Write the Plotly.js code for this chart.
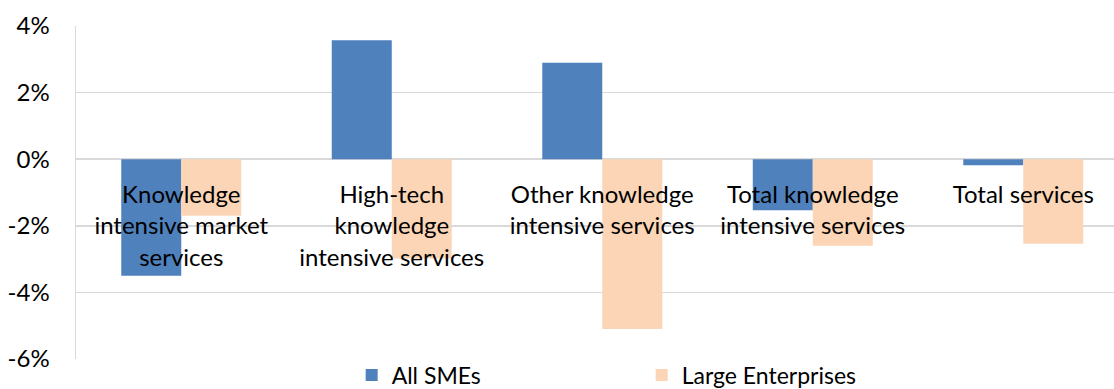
<!DOCTYPE html>
<html>
<head>
<meta charset="utf-8">
<script src="https://cdn.plot.ly/plotly-3.0.1.min.js"></script>
<style>
  body { margin: 0; background: #fff; }
  #chart { width: 1114px; height: 389px; }
</style>
</head>
<body>
<div id="chart"></div>
<script>
var categories = [
  "Knowledge<br>intensive market<br>services",
  "High-tech<br>knowledge<br>intensive services",
  "Other knowledge<br>intensive services",
  "Total knowledge<br>intensive services",
  "Total services"
];
var smes = [-3.5, 3.57, 2.9, -1.53, -0.18];
var large = [-1.7, -2.98, -5.1, -2.6, -2.54];
var yTicks = [-6, -4, -2, 0, 2, 4];

var font = "Lato, 'Open Sans', sans-serif";

var traces = [
  {
    x: categories, y: smes, name: "All SMEs", type: "bar",
    marker: {color: "#4F81BD"}, hoverinfo: "none"
  },
  {
    x: categories, y: large, name: "Large Enterprises", type: "bar",
    marker: {color: "#FBD5B5"}, hoverinfo: "none"
  }
];

var layout = {
  width: 1114, height: 389,
  margin: {l: 76, r: 0, t: 26, b: 30, autoexpand: false},
  paper_bgcolor: "#fff", plot_bgcolor: "#fff",
  font: {family: font, size: 23, color: "#000"},
  barmode: "group",
  bargap: 0.43, bargroupgap: 0,
  showlegend: true,
  legend: {
    orientation: "h", xref: "container", yref: "paper",
    x: 0.576, xanchor: "center", y: 0.016, yanchor: "top",
    bgcolor: "rgba(0,0,0,0)",
    entrywidth: 245, font: {size: 23}, traceorder: "normal"
  },
  xaxis: {
    range: [-0.5, 4.431],
    anchor: "free", position: 0.6,
    showgrid: false, showline: false, zeroline: false,
    ticks: "", ticklabelstandoff: 19,
    tickfont: {size: 24}
  },
  yaxis: {
    range: [-6, 4],
    tickvals: yTicks,
    ticktext: yTicks.map(function (v) { return v + "%"; }),
    showgrid: true, gridcolor: "#D9D9D9", gridwidth: 1.5,
    zeroline: true, zerolinecolor: "#D9D9D9", zerolinewidth: 1.5,
    showline: true, linecolor: "#D9D9D9", linewidth: 1.5,
    ticks: "", ticklabelstandoff: 20,
    tickfont: {size: 24}
  }
};

Plotly.newPlot("chart", traces, layout, {staticPlot: true});
</script>
</body>
</html>
